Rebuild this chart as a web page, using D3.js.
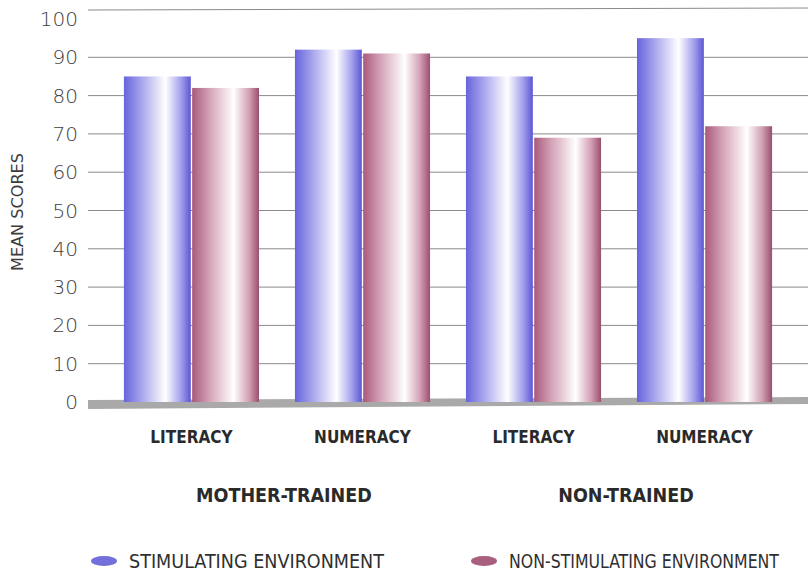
<!DOCTYPE html>
<html>
<head>
<meta charset="utf-8">
<script src="https://cdn.jsdelivr.net/npm/d3@7"></script>
<style>
  body { margin: 0; background: #fff; }
  svg { display: block; }
  text { font-family: "Liberation Sans Narrow", "DejaVu Sans Condensed", "Liberation Sans", sans-serif; }
</style>
</head>
<body>
<svg width="808" height="572"></svg>
<script>
// data
var subjects = ["LITERACY", "NUMERACY", "LITERACY", "NUMERACY"];
var groups = ["MOTHER-TRAINED", "NON-TRAINED"];
var seriesNames = ["STIMULATING ENVIRONMENT", "NON-STIMULATING ENVIRONMENT"];
var stimulating = [85, 92, 85, 95];
var nonStimulating = [82, 91, 69, 72];
var yTicks = [0, 10, 20, 30, 40, 50, 60, 70, 80, 90, 100];

var svg = d3.select("svg"),
    width = +svg.attr("width"),
    height = +svg.attr("height");

var left = 88, right = 808, baseY = 402;

var y = d3.scaleLinear()
    .domain([0, 100])
    .range([baseY, 19]);

var x = d3.scaleBand()
    .domain(d3.range(subjects.length))
    .range([left, right])
    .paddingInner(0.21)
    .paddingOuter(0.21);

var xs = d3.scaleBand()
    .domain([0, 1])
    .range([0, x.bandwidth()])
    .paddingInner(0.02);

// gradients for the shiny bars
var defs = svg.append("defs");
function makeGrad(id, dark, mid, edge) {
    var g = defs.append("linearGradient").attr("id", id)
        .attr("x1", "0%").attr("x2", "100%").attr("y1", "0%").attr("y2", "0%");
    g.append("stop").attr("offset", "0%").attr("stop-color", dark);
    g.append("stop").attr("offset", "25%").attr("stop-color", mid);
    g.append("stop").attr("offset", "62%").attr("stop-color", "#ffffff");
    g.append("stop").attr("offset", "85%").attr("stop-color", mid);
    g.append("stop").attr("offset", "100%").attr("stop-color", edge);
}
makeGrad("gBlue", "#6764dc", "#a4a1ec", "#5b57d6");
makeGrad("gRed", "#a85a7c", "#d3a0b5", "#9a4f6e");
var colors = ["url(#gBlue)", "url(#gRed)"];
var legendColors = ["#7370dc", "#a9607e"];

// gridlines
svg.append("g")
    .selectAll("line")
    .data(yTicks.filter(function(d) { return d > 0; }))
    .enter().append("line")
      .attr("x1", left)
      .attr("x2", right)
      .attr("y1", function(d) { return d == 100 ? y(d) - 9 : y(d); })
      .attr("y2", function(d) { return d == 100 ? y(d) - 11 : y(d); })
      .attr("stroke", "#8a8a8a")
      .attr("stroke-width", 1);

// y tick labels
svg.append("g")
    .selectAll("text")
    .data(yTicks)
    .enter().append("text")
      .attr("x", 78)
      .attr("y", function(d) { return y(d); })
      .attr("dy", "0.35em")
      .attr("text-anchor", "end")
      .attr("font-size", 20)
      .attr("fill", "#3c3c3c")
      .style("font-family", "'DejaVu Sans', sans-serif")
      .style("font-weight", 300)
      .text(function(d) { return d; });

// floor
svg.append("path")
    .attr("d", "M" + left + "," + (baseY - 2) + "L" + right + "," + (baseY - 5) +
         "L" + right + "," + (baseY + 2) + "L" + left + "," + (baseY + 7) + "Z")
    .attr("fill", "#a9a9a9");

// bars
var data = subjects.map(function(s, i) {
    return [stimulating[i], nonStimulating[i]];
});

var grp = svg.append("g").selectAll("g")
    .data(data)
    .enter().append("g")
      .attr("transform", function(d, i) { return "translate(" + x(i) + ",0)"; });

grp.selectAll("rect")
    .data(function(d) { return d; })
    .enter().append("rect")
      .attr("x", function(d, j) { return xs(j); })
      .attr("width", xs.bandwidth())
      .attr("y", function(d) { return y(d); })
      .attr("height", function(d) { return baseY - y(d); })
      .attr("fill", function(d, j) { return colors[j]; });

// subject labels
svg.append("g")
    .selectAll("text")
    .data(subjects)
    .enter().append("text")
      .attr("x", function(d, i) { return x(i) + x.bandwidth() / 2; })
      .attr("y", 443)
      .attr("text-anchor", "middle")
      .attr("font-size", 17)
      .attr("font-weight", "bold")
      .attr("fill", "#2a2a2a")
      .text(function(d) { return d; });

// group labels
svg.append("g")
    .selectAll("text")
    .data(groups)
    .enter().append("text")
      .attr("x", function(d, i) {
          return (x(i * 2) + x(i * 2 + 1) + x.bandwidth()) / 2 + 7;
      })
      .attr("y", 502)
      .attr("text-anchor", "middle")
      .attr("font-size", 19.5)
      .attr("font-weight", "bold")
      .attr("fill", "#2a2a2a")
      .text(function(d) { return d; });

// y axis title
svg.append("text")
    .attr("transform", "translate(23,212) rotate(-90)")
    .attr("text-anchor", "middle")
    .attr("font-size", 16)
    .attr("fill", "#3c3c3c")
    .attr("textLength", 118)
    .attr("lengthAdjust", "spacingAndGlyphs")
    .text("MEAN SCORES");

// legend
var legendX = [104, 484];
var legendLen = [255, 270];
var legend = svg.append("g")
    .selectAll("g")
    .data(seriesNames)
    .enter().append("g")
      .attr("transform", function(d, i) { return "translate(" + legendX[i] + ",561)"; });

legend.append("ellipse")
    .attr("rx", 13)
    .attr("ry", 5)
    .attr("fill", function(d, i) { return legendColors[i]; });

legend.append("text")
    .attr("x", 25)
    .attr("dy", "0.35em")
    .attr("font-size", 19)
    .attr("fill", "#2f2f2f")
    .attr("textLength", function(d, i) { return legendLen[i]; })
    .attr("lengthAdjust", "spacingAndGlyphs")
    .text(function(d) { return d; });
</script>
</body>
</html>
